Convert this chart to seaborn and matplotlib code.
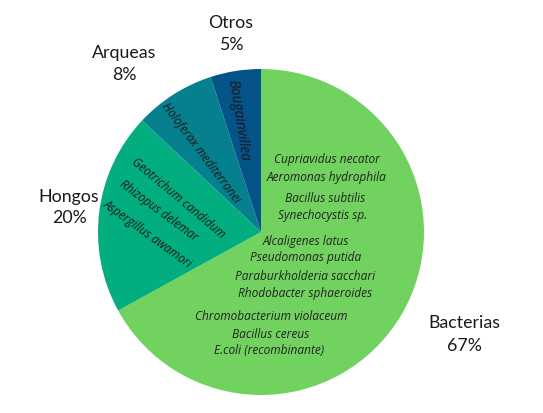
import matplotlib
matplotlib.use('Agg')
import matplotlib.pyplot as plt
import seaborn as sns

# data
groups = ['Bacterias', 'Hongos', 'Arqueas', 'Otros']
shares = [67, 20, 8, 5]
colors = ['#72D25F', '#02AD80', '#06808E', '#045389']

bact_lines = ['Cupriavidus necator', 'Aeromonas hydrophila',
              'Bacillus subtilis', 'Synechocystis sp.',
              'Alcaligenes latus', 'Pseudomonas putida',
              'Paraburkholderia sacchari', 'Rhodobacter sphaeroides',
              'Chromobacterium violaceum', 'Bacillus cereus',
              'E.coli (recombinante)']
hongos_lines = ['Geotrichum candidum', 'Rhizopus delemar', 'Aspergillus awamori']
arqueas_lines = ['Holoferax mediterranei']
otros_lines = ['Bougainvillea']

sns.set_theme(style='white')
plt.rcParams['font.family'] = ['Open Sans', 'DejaVu Sans']

W, H = 543, 413
fig = plt.figure(figsize=(W / 100, H / 100), dpi=100)
ax = fig.add_axes([0, 0, 1, 1])
ax.axis('off')

cx, cy, r = 261, H - 232, 163
ax.pie(shares, colors=colors, startangle=90, counterclock=False,
       center=(cx, cy), radius=r, wedgeprops=dict(linewidth=0))
ax.set_xlim(0, W)
ax.set_ylim(0, H)
ax.set_aspect('equal')

# outer labels
lab_font = ['Lato', 'DejaVu Sans']
outer_pos = {'Bacterias': (464, 323, 346), 'Hongos': (69, 197, 218),
             'Arqueas': (124, 53, 75), 'Otros': (231, 23, 45)}
for g, s in zip(groups, shares):
    x, y1, y2 = outer_pos[g]
    ax.text(x, H - y1, g, ha='center', va='center', fontsize=12.8,
            color='#1a1a1a', family=lab_font)
    ax.text(x, H - y2, f'{s}%', ha='center', va='center', fontsize=12.8,
            color='#1a1a1a', family=lab_font)

# species inside Bacterias
bact_pos = [(327, 160), (327, 177), (325, 199), (323, 216), (306, 241),
            (306, 258), (305, 276), (305, 293), (271, 317), (271, 334), (269, 351)]
for t, (x, y) in zip(bact_lines, bact_pos):
    ax.text(x, H - y, t, ha='center', va='center', fontsize=8.6,
            style='italic', color='#222222')

# rotated species
rot_items = hongos_lines + arqueas_lines + otros_lines
rot_pos = [(178, 198, -40, 8.6), (159, 211, -36.5, 8.6), (147, 234, -36, 8.6),
           (201, 153, -53, 8.6), (238, 121, -81, 10)]
for t, (x, y, a, fs) in zip(rot_items, rot_pos):
    ax.text(x, H - y, t, ha='center', va='center', fontsize=fs,
            style='italic', color='#1a1a1a', rotation=a,
            rotation_mode='anchor')

fig.savefig('out.png', dpi=100)
